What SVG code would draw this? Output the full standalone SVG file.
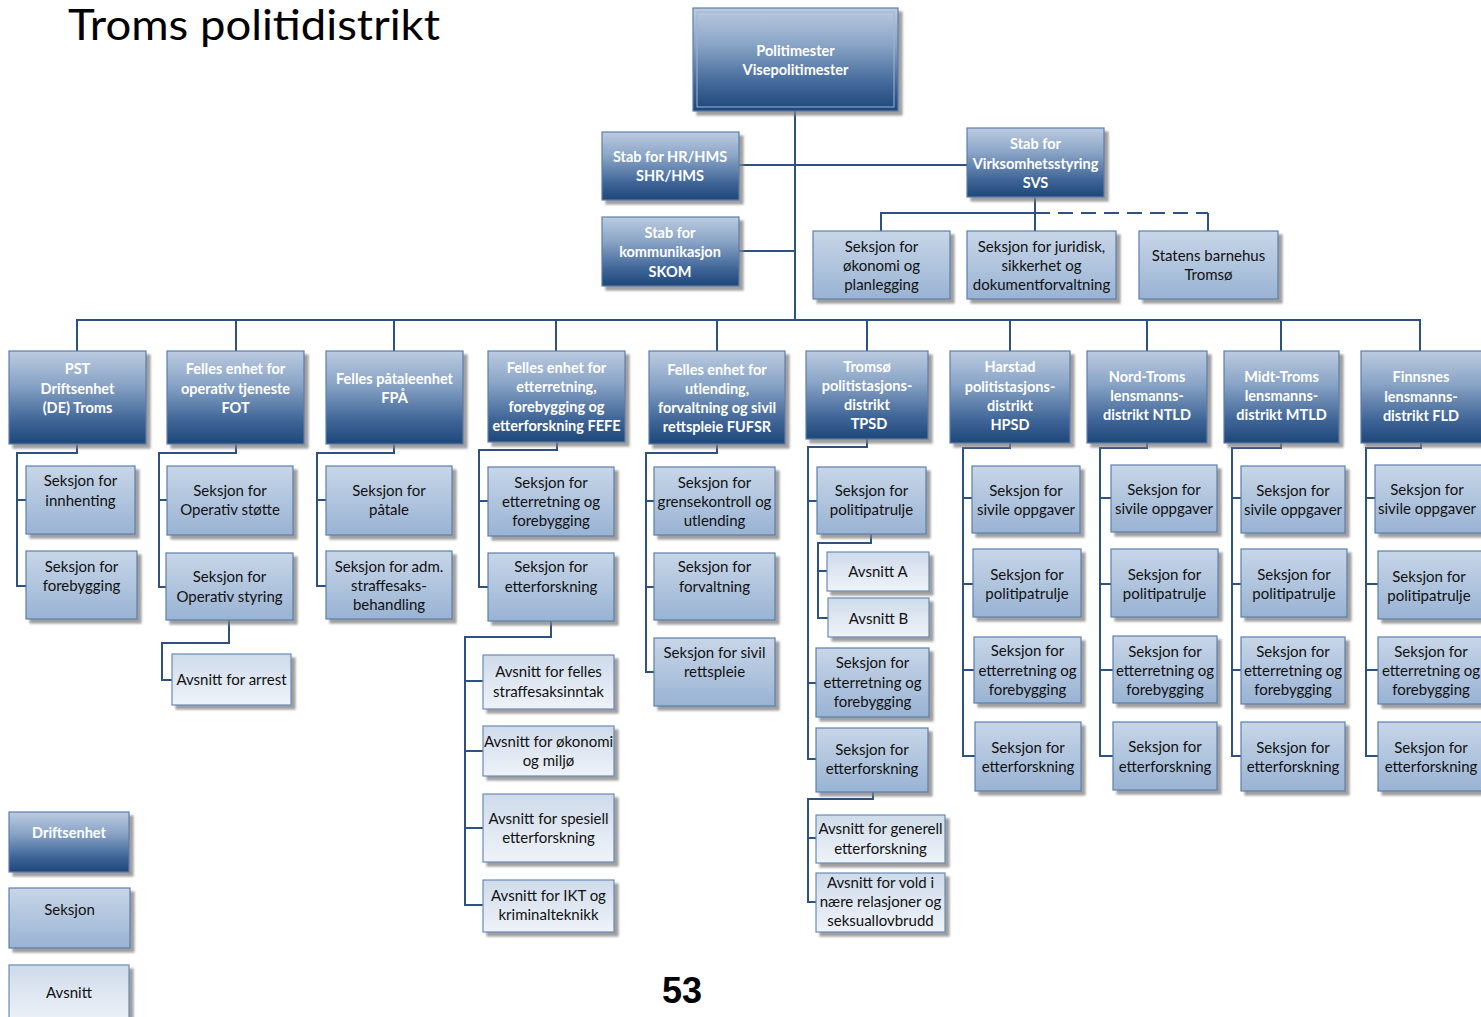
<svg xmlns="http://www.w3.org/2000/svg" width="1481" height="1017" viewBox="0 0 1481 1017">
<defs>
<linearGradient id="gD" x1="0" y1="0" x2="0" y2="1">
<stop offset="0" stop-color="#bccbe0"/><stop offset="0.35" stop-color="#8aa5c7"/><stop offset="0.75" stop-color="#3f6597"/><stop offset="1" stop-color="#1e4779"/>
</linearGradient>
<linearGradient id="gS" x1="0" y1="0" x2="0" y2="1">
<stop offset="0" stop-color="#c8d6e8"/><stop offset="1" stop-color="#99b3d3"/>
</linearGradient>
<linearGradient id="gA" x1="0" y1="0" x2="0" y2="1">
<stop offset="0" stop-color="#cfdbea"/><stop offset="1" stop-color="#eff3f9"/>
</linearGradient>
<filter id="sh" x="-10%" y="-10%" width="130%" height="130%">
<feDropShadow dx="4" dy="4" stdDeviation="1" flood-color="#7f7f7f" flood-opacity="0.75"/>
</filter>
</defs>
<style>
.d{fill:url(#gD);stroke:#5b7eaa;stroke-width:1.2;filter:url(#sh)}
.s{fill:url(#gS);stroke:#5a7fad;stroke-width:1.2;filter:url(#sh)}
.a{fill:url(#gA);stroke:#6a8bb5;stroke-width:1.2;filter:url(#sh)}
.td{font-family:Lato,"Open Sans",sans-serif;font-weight:bold;font-size:14.5px;fill:#ffffff;text-anchor:middle;dominant-baseline:central}
.t{font-family:Lato,"Open Sans",sans-serif;font-size:15px;fill:#111111;text-anchor:middle;dominant-baseline:central}
.c path,.c line{fill:none;stroke:#2d5183;stroke-width:2}
.dash{stroke-dasharray:15 8}
</style>
<rect width="1481" height="1017" fill="#ffffff"/>
<text x="68" y="40" font-family="Lato,'Open Sans',sans-serif" font-size="42" fill="#000" textLength="372" lengthAdjust="spacingAndGlyphs">Troms politidistrikt</text>
<text x="682" y="1003" font-family="'Liberation Sans',Arial,sans-serif" font-weight="bold" font-size="36" fill="#000" text-anchor="middle">53</text>

<g class="c" id="connectors">
<path d="M795,111 V320"/>
<path d="M739,165 H967"/>
<path d="M739,251 H795"/>
<path d="M1035,197 V231 M881,231 V213 H1035"/>
<path class="dash" d="M1035,213 H1208"/>
<path d="M1208,213 V231"/>
<path d="M77,351 V320 H1420 V351 M236,320 V351 M394,320 V351 M556,320 V351 M717,320 V351 M867,320 V351 M1010,320 V351 M1147,320 V351 M1281,320 V351"/>
<path d="M77,444 V453 H17 V586 H26 M17,500 H26"/>
<path d="M236,444 V453 H159 V587 H166 M159,500 H167"/>
<path d="M229,620 V643 H162 V680 H172"/>
<path d="M394,444 V453 H317 V586 H326 M317,500 H326"/>
<path d="M557,442 V450 H479 V587 H488 M479,501 H488"/>
<path d="M551,621 V637 H465 V905 H483 M465,681 H483 M465,751 H483 M465,828 H483"/>
<path d="M717,444 V453 H646 V672 H654 M646,501 H654 M646,587 H654"/>
<path d="M867,439 V447 H808 V759 H816 M808,501 H817 M808,683 H816"/>
<path d="M871,534 V543 H818 V618 H828 M818,571 H827"/>
<path d="M873,792 V799 H808 V902 H816 M808,838 H816"/>
<path d="M1010,443 V448 H963 V756 H975 M963,498 H972 M963,584 H973 M963,670 H974"/>
<path d="M1147,443 V448 H1100 V756 H1113 M1100,498 H1111 M1100,584 H1111 M1100,670 H1113"/>
<path d="M1281,443 V448 H1232 V756 H1241 M1232,498 H1241 M1232,584 H1241 M1232,670 H1241"/>
<path d="M1421,443 V448 H1366 V756 H1378 M1366,498 H1375 M1366,584 H1378 M1366,670 H1378"/>
</g>

<g id="n-pm"><rect class="d" x="693" y="8" width="205" height="103"/><rect x="697" y="12" width="197" height="95" fill="none" stroke="#9fb4d0" stroke-width="1"/><text class="td"><tspan x="795.5" y="50">Politimester</tspan><tspan x="795.5" y="69">Visepolitimester</tspan></text></g>
<g id="n-hr"><rect class="d" x="602" y="132" width="137" height="68"/><text class="td"><tspan x="670" y="156">Stab for HR/HMS</tspan><tspan x="670" y="175">SHR/HMS</tspan></text></g>
<g id="n-kom"><rect class="d" x="602" y="217" width="137" height="69"/><text class="td"><tspan x="670" y="232">Stab for</tspan><tspan x="670" y="251">kommunikasjon</tspan><tspan x="670" y="271">SKOM</tspan></text></g>
<g id="n-svs"><rect class="d" x="967" y="128" width="137" height="69"/><text class="td"><tspan x="1035.5" y="143">Stab for</tspan><tspan x="1035.5" y="163">Virksomhetsstyring</tspan><tspan x="1035.5" y="182">SVS</tspan></text></g>
<g id="n-okon"><rect class="s" x="813" y="231" width="137" height="68"/><text class="t"><tspan x="881.5" y="246">Seksjon for</tspan><tspan x="881.5" y="265">økonomi og</tspan><tspan x="881.5" y="284">planlegging</tspan></text></g>
<g id="n-jur"><rect class="s" x="967" y="231" width="149" height="68"/><text class="t"><tspan x="1041.5" y="246">Seksjon for juridisk,</tspan><tspan x="1041.5" y="265">sikkerhet og</tspan><tspan x="1041.5" y="284">dokumentforvaltning</tspan></text></g>
<g id="n-barn"><rect class="s" x="1139" y="231" width="139" height="68"/><text class="t"><tspan x="1208.5" y="255">Statens barnehus</tspan><tspan x="1208.5" y="274">Tromsø</tspan></text></g>

<g id="n-pst"><rect class="d" x="9" y="351" width="137" height="93"/><text class="td"><tspan x="77.5" y="368">PST</tspan><tspan x="77.5" y="388">Driftsenhet</tspan><tspan x="77.5" y="407">(DE) Troms</tspan></text></g>
<g id="n-fot"><rect class="d" x="167" y="351" width="137" height="93"/><text class="td"><tspan x="235.5" y="368">Felles enhet for</tspan><tspan x="235.5" y="388">operativ tjeneste</tspan><tspan x="235.5" y="407">FOT</tspan></text></g>
<g id="n-fpa"><rect class="d" x="326" y="351" width="137" height="93"/><text class="td"><tspan x="394.5" y="378">Felles påtaleenhet</tspan><tspan x="394.5" y="397">FPÅ</tspan></text></g>
<g id="n-fefe"><rect class="d" x="488" y="351" width="137" height="91"/><text class="td"><tspan x="556.5" y="367">Felles enhet for</tspan><tspan x="556.5" y="386">etterretning,</tspan><tspan x="556.5" y="406">forebygging og</tspan><tspan x="556.5" y="425">etterforskning FEFE</tspan></text></g>
<g id="n-fufsr"><rect class="d" x="649" y="351" width="136" height="93"/><text class="td"><tspan x="717" y="369">Felles enhet for</tspan><tspan x="717" y="388">utlending,</tspan><tspan x="717" y="407">forvaltning og sivil</tspan><tspan x="717" y="426">rettspleie FUFSR</tspan></text></g>
<g id="n-tpsd"><rect class="d" x="806" y="351" width="122" height="88"/><text class="td"><tspan x="867" y="366">Tromsø</tspan><tspan x="867" y="385">politistasjons-</tspan><tspan x="867" y="404">distrikt</tspan><tspan x="869" y="423">TPSD</tspan></text></g>
<g id="n-hpsd"><rect class="d" x="950" y="351" width="120" height="92"/><text class="td"><tspan x="1010" y="366">Harstad</tspan><tspan x="1010" y="386">politistasjons-</tspan><tspan x="1010" y="405">distrikt</tspan><tspan x="1010" y="424">HPSD</tspan></text></g>
<g id="n-ntld"><rect class="d" x="1087" y="351" width="120" height="92"/><text class="td"><tspan x="1147" y="376">Nord-Troms</tspan><tspan x="1147" y="395">lensmanns-</tspan><tspan x="1147" y="414">distrikt NTLD</tspan></text></g>
<g id="n-mtld"><rect class="d" x="1224" y="351" width="115" height="92"/><text class="td"><tspan x="1281.5" y="376">Midt-Troms</tspan><tspan x="1281.5" y="395">lensmanns-</tspan><tspan x="1281.5" y="414">distrikt MTLD</tspan></text></g>
<g id="n-fld"><rect class="d" x="1361" y="351" width="122" height="92"/><text class="td"><tspan x="1421" y="376">Finnsnes</tspan><tspan x="1421" y="396">lensmanns-</tspan><tspan x="1421" y="415">distrikt FLD</tspan></text></g>

<g id="n-pst1"><rect class="s" x="26" y="466" width="109" height="68"/><text class="t"><tspan x="80.5" y="480">Seksjon for</tspan><tspan x="80.5" y="500">innhenting</tspan></text></g>
<g id="n-pst2"><rect class="s" x="26" y="551" width="111" height="68"/><text class="t"><tspan x="81.5" y="566">Seksjon for</tspan><tspan x="81.5" y="585">forebygging</tspan></text></g>
<g id="n-fot1"><rect class="s" x="167" y="466" width="126" height="69"/><text class="t"><tspan x="230" y="490">Seksjon for</tspan><tspan x="230" y="509">Operativ støtte</tspan></text></g>
<g id="n-fot2"><rect class="s" x="166" y="553" width="127" height="67"/><text class="t"><tspan x="229.5" y="576">Seksjon for</tspan><tspan x="229.5" y="596">Operativ styring</tspan></text></g>
<g id="n-arrest"><rect class="a" x="172" y="654" width="119" height="51"/><text class="t"><tspan x="231.5" y="679">Avsnitt for arrest</tspan></text></g>
<g id="n-fpa1"><rect class="s" x="326" y="466" width="126" height="69"/><text class="t"><tspan x="389" y="490">Seksjon for</tspan><tspan x="389" y="509">påtale</tspan></text></g>
<g id="n-fpa2"><rect class="s" x="326" y="551" width="126" height="68"/><text class="t"><tspan x="389" y="566">Seksjon for adm.</tspan><tspan x="389" y="585">straffesaks-</tspan><tspan x="389" y="604">behandling</tspan></text></g>
<g id="n-fefe1"><rect class="s" x="488" y="467" width="126" height="69"/><text class="t"><tspan x="551" y="482">Seksjon for</tspan><tspan x="551" y="501">etterretning og</tspan><tspan x="551" y="520">forebygging</tspan></text></g>
<g id="n-fefe2"><rect class="s" x="488" y="553" width="126" height="68"/><text class="t"><tspan x="551" y="566">Seksjon for</tspan><tspan x="551" y="586">etterforskning</tspan></text></g>
<g id="n-fefe2a"><rect class="a" x="483" y="655" width="131" height="54"/><text class="t"><tspan x="548.5" y="671">Avsnitt for felles</tspan><tspan x="548.5" y="691">straffesaksinntak</tspan></text></g>
<g id="n-fefe2b"><rect class="a" x="483" y="726" width="131" height="50"/><text class="t"><tspan x="548.5" y="741">Avsnitt for økonomi</tspan><tspan x="548.5" y="760">og miljø</tspan></text></g>
<g id="n-fefe2c"><rect class="a" x="483" y="794" width="131" height="68"/><text class="t"><tspan x="548.5" y="818">Avsnitt for spesiell</tspan><tspan x="548.5" y="837">etterforskning</tspan></text></g>
<g id="n-fefe2d"><rect class="a" x="483" y="880" width="131" height="52"/><text class="t"><tspan x="548.5" y="895">Avsnitt for IKT og</tspan><tspan x="548.5" y="914">kriminalteknikk</tspan></text></g>
<g id="n-fufsr1"><rect class="s" x="654" y="467" width="121" height="68"/><text class="t"><tspan x="714.5" y="482">Seksjon for</tspan><tspan x="714.5" y="501">grensekontroll og</tspan><tspan x="714.5" y="520">utlending</tspan></text></g>
<g id="n-fufsr2"><rect class="s" x="654" y="553" width="121" height="67"/><text class="t"><tspan x="714.5" y="566">Seksjon for</tspan><tspan x="714.5" y="586">forvaltning</tspan></text></g>
<g id="n-fufsr3"><rect class="s" x="654" y="638" width="121" height="68"/><text class="t"><tspan x="714.5" y="652">Seksjon for sivil</tspan><tspan x="714.5" y="671">rettspleie</tspan></text></g>
<g id="n-tpsd1"><rect class="s" x="817" y="467" width="109" height="67"/><text class="t"><tspan x="871.5" y="490">Seksjon for</tspan><tspan x="871.5" y="509">politipatrulje</tspan></text></g>
<g id="n-tpsd1a"><rect class="a" x="827" y="552" width="102" height="39"/><text class="t"><tspan x="878" y="571">Avsnitt A</tspan></text></g>
<g id="n-tpsd1b"><rect class="a" x="828" y="598" width="101" height="39"/><text class="t"><tspan x="878.5" y="618">Avsnitt B</tspan></text></g>
<g id="n-tpsd2"><rect class="s" x="816" y="648" width="113" height="69"/><text class="t"><tspan x="872.5" y="662">Seksjon for</tspan><tspan x="872.5" y="682">etterretning og</tspan><tspan x="872.5" y="701">forebygging</tspan></text></g>
<g id="n-tpsd3"><rect class="s" x="816" y="728" width="112" height="64"/><text class="t"><tspan x="872" y="749">Seksjon for</tspan><tspan x="872" y="768">etterforskning</tspan></text></g>
<g id="n-tpsd3a"><rect class="a" x="816" y="815" width="129" height="48"/><text class="t"><tspan x="880.5" y="828">Avsnitt for generell</tspan><tspan x="880.5" y="848">etterforskning</tspan></text></g>
<g id="n-tpsd3b"><rect class="a" x="816" y="873" width="129" height="59"/><text class="t"><tspan x="880.5" y="882">Avsnitt for vold i</tspan><tspan x="880.5" y="901">nære relasjoner og</tspan><tspan x="880.5" y="920">seksuallovbrudd</tspan></text></g>

<g id="n-hpsd1"><rect class="s" x="972" y="466" width="108" height="67"/><text class="t"><tspan x="1026" y="490">Seksjon for</tspan><tspan x="1026" y="509">sivile oppgaver</tspan></text></g>
<g id="n-hpsd2"><rect class="s" x="973" y="549" width="108" height="68"/><text class="t"><tspan x="1027" y="574">Seksjon for</tspan><tspan x="1027" y="593">politipatrulje</tspan></text></g>
<g id="n-hpsd3"><rect class="s" x="974" y="637" width="107" height="66"/><text class="t"><tspan x="1027.5" y="650">Seksjon for</tspan><tspan x="1027.5" y="670">etterretning og</tspan><tspan x="1027.5" y="689">forebygging</tspan></text></g>
<g id="n-hpsd4"><rect class="s" x="975" y="722" width="106" height="69"/><text class="t"><tspan x="1028" y="747">Seksjon for</tspan><tspan x="1028" y="766">etterforskning</tspan></text></g>

<g id="n-ntld1"><rect class="s" x="1111" y="465" width="106" height="67"/><text class="t"><tspan x="1164" y="489">Seksjon for</tspan><tspan x="1164" y="508">sivile oppgaver</tspan></text></g>
<g id="n-ntld2"><rect class="s" x="1111" y="549" width="107" height="68"/><text class="t"><tspan x="1164.5" y="574">Seksjon for</tspan><tspan x="1164.5" y="593">politipatrulje</tspan></text></g>
<g id="n-ntld3"><rect class="s" x="1113" y="636" width="104" height="67"/><text class="t"><tspan x="1165" y="651">Seksjon for</tspan><tspan x="1165" y="670">etterretning og</tspan><tspan x="1165" y="689">forebygging</tspan></text></g>
<g id="n-ntld4"><rect class="s" x="1113" y="722" width="104" height="68"/><text class="t"><tspan x="1165" y="746">Seksjon for</tspan><tspan x="1165" y="766">etterforskning</tspan></text></g>

<g id="n-mtld1"><rect class="s" x="1241" y="466" width="104" height="67"/><text class="t"><tspan x="1293" y="490">Seksjon for</tspan><tspan x="1293" y="509">sivile oppgaver</tspan></text></g>
<g id="n-mtld2"><rect class="s" x="1241" y="549" width="106" height="68"/><text class="t"><tspan x="1294" y="574">Seksjon for</tspan><tspan x="1294" y="593">politipatrulje</tspan></text></g>
<g id="n-mtld3"><rect class="s" x="1241" y="637" width="104" height="67"/><text class="t"><tspan x="1293" y="651">Seksjon for</tspan><tspan x="1293" y="670">etterretning og</tspan><tspan x="1293" y="689">forebygging</tspan></text></g>
<g id="n-mtld4"><rect class="s" x="1241" y="722" width="104" height="69"/><text class="t"><tspan x="1293" y="747">Seksjon for</tspan><tspan x="1293" y="766">etterforskning</tspan></text></g>

<g id="n-fld1"><rect class="s" x="1375" y="465" width="108" height="68"/><text class="t"><tspan x="1427" y="489">Seksjon for</tspan><tspan x="1427" y="508">sivile oppgaver</tspan></text></g>
<g id="n-fld2"><rect class="s" x="1378" y="551" width="105" height="68"/><text class="t"><tspan x="1429" y="576">Seksjon for</tspan><tspan x="1429" y="595">politipatrulje</tspan></text></g>
<g id="n-fld3"><rect class="s" x="1378" y="637" width="105" height="67"/><text class="t"><tspan x="1431" y="651">Seksjon for</tspan><tspan x="1431" y="670">etterretning og</tspan><tspan x="1431" y="689">forebygging</tspan></text></g>
<g id="n-fld4"><rect class="s" x="1378" y="722" width="105" height="69"/><text class="t"><tspan x="1431" y="747">Seksjon for</tspan><tspan x="1431" y="766">etterforskning</tspan></text></g>

<g id="legend-d"><rect class="d" x="9" y="812" width="120" height="60"/><text class="td"><tspan x="69" y="832">Driftsenhet</tspan></text></g>
<g id="legend-s"><rect class="s" x="9" y="888" width="121" height="60"/><text class="t"><tspan x="69.5" y="909">Seksjon</tspan></text></g>
<g id="legend-a"><rect class="a" x="9" y="965" width="120" height="60"/><text class="t"><tspan x="69" y="992">Avsnitt</tspan></text></g>
</svg>
